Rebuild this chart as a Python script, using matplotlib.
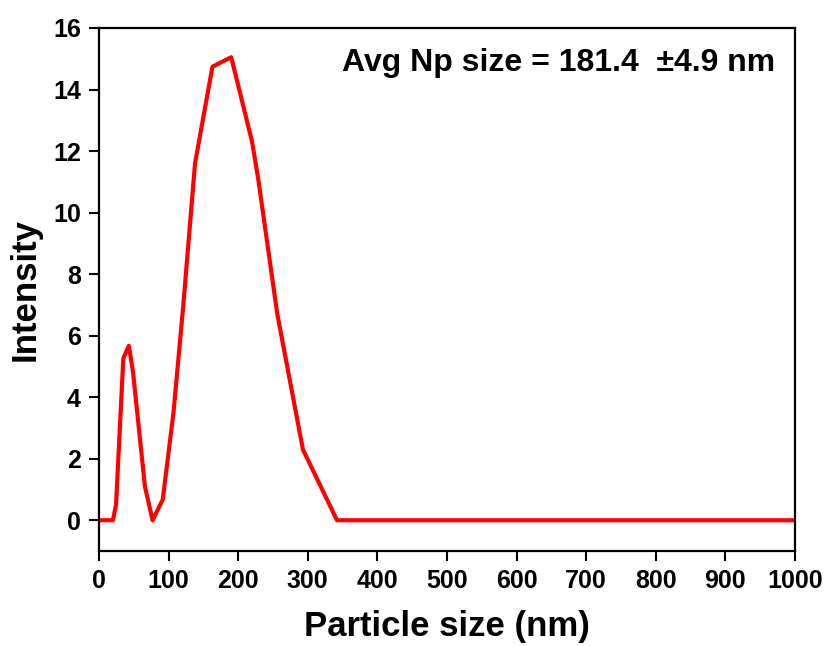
import matplotlib
matplotlib.use("Agg")
import matplotlib.pyplot as plt

# particle size distribution (DLS), log spaced bins
size_nm = [0, 20, 24.5, 35, 43, 49, 66, 77, 91.6, 107, 121, 138, 163, 190, 220, 229, 256, 293, 342, 1000]
intensity = [0, 0, 0.5, 5.27, 5.67, 4.8, 1.1, 0, 0.67, 3.49, 6.95, 11.6, 14.74, 15.05, 12.3, 11.06, 6.73, 2.3, 0, 0]

xticks = list(range(0, 1001, 100))
yticks = list(range(0, 17, 2))

plt.rcParams['font.family'] = ['Liberation Sans', 'DejaVu Sans']
plt.rcParams['font.weight'] = 'bold'

fig = plt.figure(figsize=(8.29, 6.46), dpi=100)
ax = fig.add_axes([0.1194, 0.147, 0.8396, 0.8097])

ax.plot(size_nm, intensity, color='#ff0000', lw=3.0)

ax.set_xlim(0, 1000)
ax.set_ylim(-1, 16)
ax.set_xticks(xticks)
ax.set_yticks(yticks)
ax.tick_params(direction='out', length=7, width=1.5, labelsize=18, pad=6)
for lab in ax.get_xticklabels() + ax.get_yticklabels():
    lab.set_fontweight('bold')
for s in ax.spines.values():
    s.set_linewidth(1.6)

ax.set_xlabel('Particle size (nm)', fontsize=25, fontweight='bold', labelpad=12)
ax.set_ylabel('Intensity', fontsize=25, fontweight='bold', labelpad=8)

ax.text(0.971, 0.933, 'Avg Np size = 181.4  \u00b14.9 nm', transform=ax.transAxes,
        ha='right', va='center', fontsize=23, fontweight='bold')

fig.savefig('out.png', dpi=100)
